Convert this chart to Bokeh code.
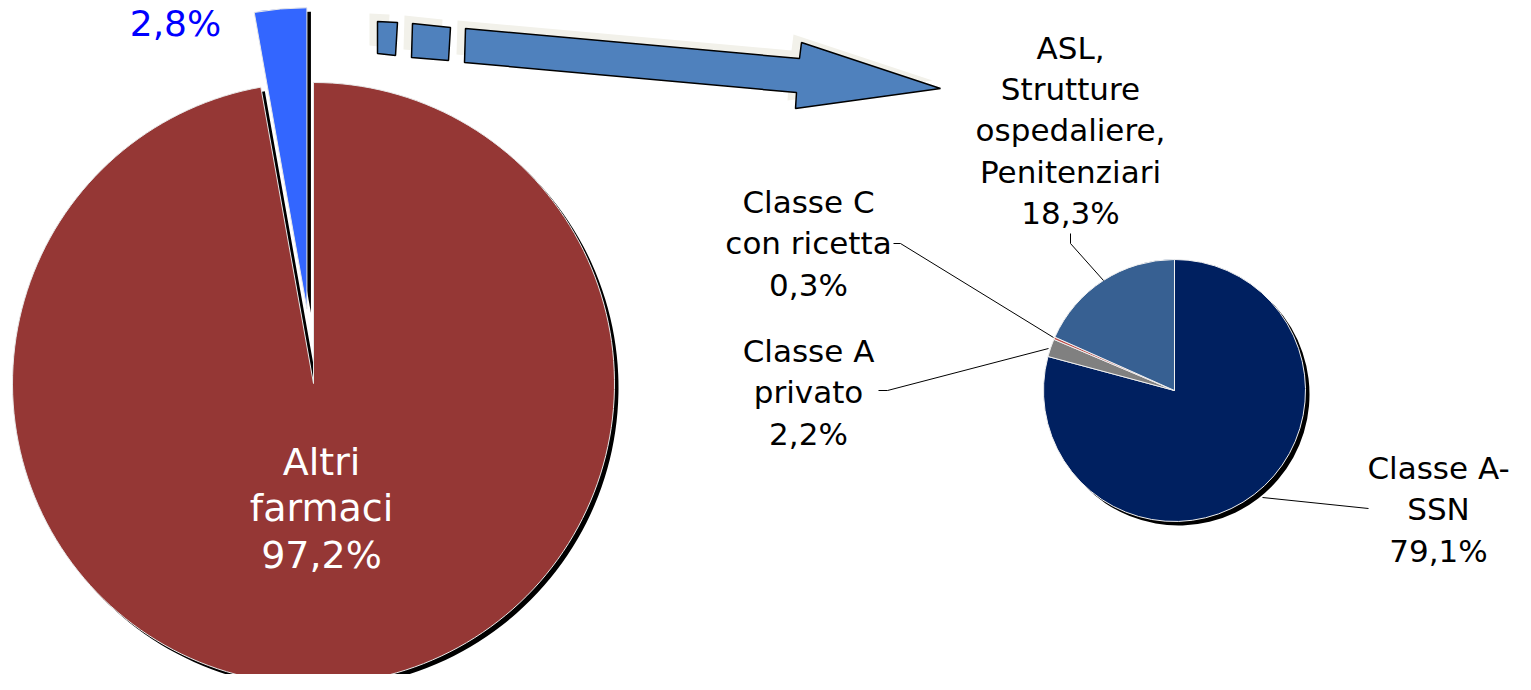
import numpy as np
from bokeh.plotting import figure
from bokeh.models import Range1d, ColumnDataSource
from bokeh.core.properties import value
from bokeh.embed import file_html
from bokeh.resources import INLINE

# ---------------- data ----------------
main_categories = ["Altri\nfarmaci", ""]
main_values = [97.2, 2.8]
main_colors = ["#953735", "#3366FF"]

detail_categories = ["Classe A-\nSSN", "Classe A\nprivato", "Classe C\ncon ricetta",
                     "ASL,\nStrutture\nospedaliere,\nPenitenziari"]
detail_values = [79.1, 2.2, 0.3, 18.3]
detail_colors = ["#002060", "#808080", "#C0504D", "#376092"]

# ---------------- layout (image pixel coords -> data coords) ----------------
W, H = 1515, 674
FONT = value("DejaVu Sans")


def Y(y_img):
    return 690 - y_img


def fmt(v):
    return ("%.1f" % v).replace(".", ",") + "%"


def pie_angles(vals):
    vals = np.asarray(vals, dtype=float)
    tot = vals.sum()
    cum = np.cumsum(vals)
    start_cw = cum - vals
    end_a = np.pi / 2 - start_cw / tot * 2 * np.pi
    start_a = np.pi / 2 - cum / tot * 2 * np.pi
    return start_a, end_a


p = figure(width=W, height=H, output_backend="svg", toolbar_location=None,
           x_range=Range1d(0, W), y_range=Range1d(690 - H, 690),
           min_border=0, outline_line_color=None, background_fill_color="white")
p.axis.visible = False
p.grid.visible = False

SH = 4  # shadow offset

# ---------- big pie ----------
big_c = (313, Y(383))
big_r = 301
explode = [0, 75]
s_a, e_a = pie_angles(main_values)
mid = (s_a + e_a) / 2
bx = [big_c[0] + explode[i] * np.cos(mid[i]) for i in range(2)]
by = [big_c[1] + explode[i] * np.sin(mid[i]) for i in range(2)]
big_src = ColumnDataSource(dict(x=bx, y=by, sx=[v + SH for v in bx], sy=[v - SH for v in by],
                                start=list(s_a), end=list(e_a), color=main_colors))
p.wedge(x="sx", y="sy", radius=big_r, start_angle="start", end_angle="end",
        fill_color="black", line_color=None, source=big_src)
p.wedge(x="x", y="y", radius=big_r, start_angle="start", end_angle="end",
        fill_color="color", line_color="#e8e8e8", line_width=1, source=big_src)

# ---------- detail pie ----------
det_c = (1174, Y(390))
det_r = 131
s2, e2 = pie_angles(detail_values)
det_src = ColumnDataSource(dict(x=[det_c[0]] * 4, y=[det_c[1]] * 4,
                                sx=[det_c[0] + SH] * 4, sy=[det_c[1] - SH] * 4,
                                start=list(s2), end=list(e2), color=detail_colors))
p.wedge(x="sx", y="sy", radius=det_r, start_angle="start", end_angle="end",
        fill_color="black", line_color=None, source=det_src)
p.wedge(x="x", y="y", radius=det_r, start_angle="start", end_angle="end",
        fill_color="color", line_color="#f0f0f0", line_width=1, source=det_src)

# ---------- arrow decoration ----------
arrow_shapes = [
    [(377, 21), (397, 22), (395, 55), (377, 53)],
    [(412, 23), (450, 27), (448, 60), (411, 57)],
    [(465, 28), (799, 58), (801, 42), (940, 88), (795, 108), (796, 92), (464, 62)],
]
p.patches(xs=[[x - 8 for x, _ in s] for s in arrow_shapes],
          ys=[[Y(y) + 8 for _, y in s] for s in arrow_shapes],
          fill_color="#F2F1EA", line_color=None)
p.patches(xs=[[x for x, _ in s] for s in arrow_shapes],
          ys=[[Y(y) for _, y in s] for s in arrow_shapes],
          fill_color="#4F81BD", line_color="black", line_width=1.5)

# ---------- labels ----------
p.text(x=[321], y=[Y(508)], text=[main_categories[0] + "\n" + fmt(main_values[0])],
       text_font=FONT, text_font_size="38px", text_color="white",
       text_align="center", text_baseline="middle", text_line_height=1.05)
p.text(x=[175], y=[Y(23)], text=[fmt(main_values[1])],
       text_font=FONT, text_font_size="36px", text_color="#0000FF",
       text_align="center", text_baseline="middle")

det_label_pos = [(1438, Y(509)), (808, Y(392)), (808, Y(243)), (1070, Y(130))]
p.text(x=[q[0] for q in det_label_pos], y=[q[1] for q in det_label_pos],
       text=[c + "\n" + fmt(v) for c, v in zip(detail_categories, detail_values)],
       text_font=FONT, text_font_size="31px", text_color="black",
       text_align="center", text_baseline="middle", text_line_height=1.14)

leaders = [
    [(1262, 497), (1368, 508)],
    [(878, 390), (887, 390), (1048, 348)],
    [(893, 243), (900, 243), (1053, 337)],
    [(1070, 233), (1070, 243), (1103, 280)],
]
p.multi_line(xs=[[x for x, _ in l] for l in leaders],
             ys=[[Y(y) for _, y in l] for l in leaders],
             line_color="black", line_width=1)

open("out.html", "w").write(file_html(p, INLINE))
